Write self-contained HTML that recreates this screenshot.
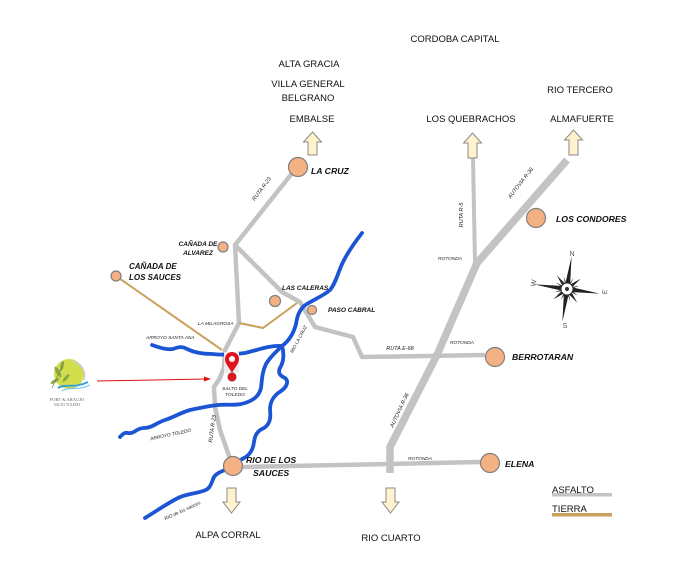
<!DOCTYPE html>
<html><head><meta charset="utf-8"><style>
html,body{margin:0;padding:0;background:#fff;}
svg{display:block;}
text{font-family:"Liberation Sans",sans-serif;}
.r{font-size:9.5px;fill:#111;}
.b{font-size:8.7px;font-weight:bold;font-style:italic;fill:#111;}
.s{font-size:7px;font-weight:bold;font-style:italic;fill:#111;}
.t{font-size:4.8px;font-style:italic;fill:#222;}
</style></head><body>
<svg width="680" height="580" viewBox="0 0 680 580" xmlns="http://www.w3.org/2000/svg">
<rect width="680" height="580" fill="#fff"/>
<!-- gray roads -->
<g fill="none" stroke="#c3c3c3" stroke-linejoin="round" stroke-linecap="butt">
<polyline stroke-width="4.5" points="297,167 235,245 239,323 225,350 224,367 220,378 214,387 215,407 220,430 228,453 233,466"/>
<polyline stroke-width="4.5" points="235,245 282,292 300,302 315,327 353,337 362,357 485,355"/>
<polyline stroke-width="4" points="473,158 475,263"/>
<polyline stroke-width="7.5" points="567,160 477,263 437,355 390,447 390,473"/>
<polyline stroke-width="4.5" points="243,467 340,465 480,462"/>
</g>
<!-- tierra -->
<g fill="none" stroke="#c9a15c" stroke-width="2">
<polyline points="116,276 222,350"/>
<polyline points="239,323 263,328 297,303"/>
</g>
<!-- rivers -->
<g fill="none" stroke="#1b55d3" stroke-width="3.8" stroke-linejoin="round" stroke-linecap="round">
<path d="M362,233 C355,242 348,252 343,262 C338,272 336,283 330,290 C322,297 312,300 304,306 C298,312 297,318 296,324 C294,332 290,340 282,346"/>
<path d="M152,345 C160,348 167,350 173,349 C178,347 182,346 187,349 C195,353 203,354 212,354 C222,355 232,355 245,353 C258,350 270,345 282,346"/>
<path d="M282,346 C276,352 270,357 266,364 C262,372 262,380 261,388 C259,396 254,400 245,403 C236,406 228,404 218,405 C208,406 200,408 190,410 C180,413 174,417 165,420 C156,423 152,428 144,428 C136,428 135,434 128,433 C124,432 122,435 120,437"/>
<path d="M282,346 C284,352 284,360 281,366 C278,371 278,375 285,378 C289,381 287,387 281,391 C273,396 270,402 270,410 C271,418 270,424 264,428 C257,431 255,435 254,442 C253,450 250,455 244,458 C238,461 236,465 233,467"/>
<path d="M233,467 C226,470 217,472 214,477 C211,483 211,489 203,491 C194,494 186,494 178,498 C168,503 158,510 145,518"/>
</g>
<!-- circles -->
<g fill="#f4b183" stroke="#7f7f7f" stroke-width="1.2">
<circle cx="298" cy="167" r="9.5"/>
<circle cx="223" cy="247" r="5"/>
<circle cx="116" cy="276" r="5"/>
<circle cx="275" cy="301" r="5.5"/>
<circle cx="312" cy="310" r="4.5"/>
<circle cx="536" cy="218" r="9.5"/>
<circle cx="495" cy="357" r="9.5"/>
<circle cx="490" cy="463" r="9.5"/>
<circle cx="233" cy="466" r="9.5"/>
</g>
<!-- block arrows -->
<g fill="#fff2cc" stroke="#8a8a8a" stroke-width="1">
<path d="M312.5,132 L321.5,142 L317,142 L317,155 L308,155 L308,142 L303.5,142 Z"/>
<path d="M472.5,133 L481.5,143 L477,143 L477,158 L468,158 L468,143 L463.5,143 Z"/>
<path d="M573.5,130 L582.5,140 L578,140 L578,155 L569,155 L569,140 L564.5,140 Z"/>
<path d="M231.5,513 L240,502 L236,502 L236,488 L227,488 L227,502 L223,502 Z"/>
<path d="M390.5,513 L399,502 L395,502 L395,488 L386,488 L386,502 L382,502 Z"/>
</g>
<!-- pin -->
<rect x="224" y="352" width="15" height="21" fill="#ececec"/>
<path d="M232,373 C229,367 225,364 225,359 A7,7 0 1 1 239,359 C239,364 235,367 232,373 Z" fill="#e0141c"/>
<circle cx="232" cy="359" r="3" fill="#fff"/>
<circle cx="232" cy="377" r="4.5" fill="#e0141c" stroke="#999" stroke-width="0.5"/>
<!-- red arrow -->
<line x1="97" y1="381" x2="206" y2="379" stroke="#e01010" stroke-width="1"/>
<path d="M211,379 L204,376.5 L204,381.5 Z" fill="#e01010"/>
<!-- logo -->
<circle cx="69" cy="374" r="15" fill="#d2df4a"/>
<path d="M72,361 A15,15 0 0 1 84,380" fill="none" stroke="#c9c9d8" stroke-width="1.5"/>
<path d="M58,388 C66,383 74,389 88,382" fill="none" stroke="#3aa0d8" stroke-width="2"/>
<path d="M62,391 C70,386 78,391 90,385" fill="none" stroke="#7cc5ea" stroke-width="1.2"/>
<g fill="#8aa84a">
<ellipse cx="58" cy="372" rx="2" ry="6" transform="rotate(-30 58 372)"/>
<ellipse cx="62" cy="366" rx="1.6" ry="5" transform="rotate(10 62 366)"/>
<ellipse cx="55" cy="381" rx="1.6" ry="5" transform="rotate(60 55 381)"/>
<ellipse cx="66" cy="378" rx="1.6" ry="5" transform="rotate(40 66 378)"/>
</g>
<line x1="52" y1="388" x2="64" y2="362" stroke="#7a9040" stroke-width="0.8"/>
<text x="67" y="401" text-anchor="middle" style="font-family:'Liberation Serif',serif;font-size:4.5px;fill:#666">FORT &amp; ARAUJO</text>
<text x="67" y="406" text-anchor="middle" style="font-family:'Liberation Serif',serif;font-size:3.6px;fill:#666">SALTO TOLEDO</text>
<!-- compass -->
<g transform="translate(567,289) rotate(8)">
<g fill="#222">
<path d="M0,-33 L2.5,-4 L0,0 L-2.5,-4 Z"/>
<path d="M0,33 L2.5,4 L0,0 L-2.5,4 Z"/>
<path d="M-33,0 L-4,-2.5 L0,0 L-4,2.5 Z"/>
<path d="M33,0 L4,-2.5 L0,0 L4,2.5 Z"/>
<g transform="rotate(45)">
<path d="M0,-17 L2,-3 L0,0 L-2,-3 Z"/>
<path d="M0,17 L2,3 L0,0 L-2,3 Z"/>
<path d="M-17,0 L-3,-2 L0,0 L-3,2 Z"/>
<path d="M17,0 L3,-2 L0,0 L3,2 Z"/>
</g>
<g transform="rotate(22.5)"><path d="M0,-13 L1.1,0 L0,13 L-1.1,0 Z"/><path d="M-13,0 L0,1.1 L13,0 L0,-1.1 Z"/></g>
<g transform="rotate(67.5)"><path d="M0,-13 L1.1,0 L0,13 L-1.1,0 Z"/><path d="M-13,0 L0,1.1 L13,0 L0,-1.1 Z"/></g>
</g>
<circle r="6" fill="#fff" stroke="#333" stroke-width="1"/>
<circle r="2" fill="#333"/>
</g>
<g style="font-family:'Liberation Serif',serif;font-size:7px;fill:#555">
<text x="572" y="256" text-anchor="middle">N</text>
<text x="565" y="328" text-anchor="middle">S</text>
<text x="534" y="285" text-anchor="middle" transform="rotate(-80 534 283)">W</text>
<text x="605" y="294" text-anchor="middle" transform="rotate(-80 605 292)">E</text>
</g>
<!-- regular labels -->
<g class="r" text-anchor="middle">
<text x="455" y="42">CORDOBA CAPITAL</text>
<text x="309" y="67">ALTA GRACIA</text>
<text x="308" y="87">VILLA GENERAL</text>
<text x="308" y="101">BELGRANO</text>
<text x="312" y="122">EMBALSE</text>
<text x="471" y="122">LOS QUEBRACHOS</text>
<text x="582" y="122">ALMAFUERTE</text>
<text x="580" y="93">RIO TERCERO</text>
<text x="228" y="538">ALPA CORRAL</text>
<text x="391" y="541">RIO CUARTO</text>
</g>
<text class="r" x="552" y="493">ASFALTO</text>
<rect x="552" y="493" width="60" height="3.5" fill="#c3c3c3"/>
<text class="r" x="552" y="512">TIERRA</text>
<rect x="552" y="513" width="60" height="3.5" fill="#c9a15c"/>
<!-- bold labels -->
<text class="b" x="311" y="174">LA CRUZ</text>
<text class="b" x="556" y="222">LOS CONDORES</text>
<text class="b" x="512" y="360">BERROTARAN</text>
<text class="b" x="505" y="467">ELENA</text>
<text class="b" x="246" y="463">RIO DE LOS</text>
<text class="b" x="253" y="476">SAUCES</text>
<text class="s" x="129" y="269" style="font-size:8px">CAÑADA DE</text>
<text class="s" x="129" y="280" style="font-size:8px">LOS SAUCES</text>
<text class="s" x="198" y="246" text-anchor="middle" style="font-size:6.5px">CAÑADA DE</text>
<text class="s" x="198" y="255" text-anchor="middle" style="font-size:6.5px">ALVAREZ</text>
<text class="s" x="282" y="290" style="font-size:6.5px">LAS CALERAS</text>
<text class="s" x="328" y="312" style="font-size:6.5px">PASO CABRAL</text>
<!-- tiny labels -->
<text class="t" x="198" y="325">LA MILAGROSA</text>
<text class="t" x="146" y="339">ARROYO SANTA ANA</text>
<text class="t" x="235" y="390" text-anchor="middle">SALTO DEL</text>
<text class="t" x="235" y="396" text-anchor="middle">TOLEDO</text>
<text class="t" x="171" y="436" text-anchor="middle" transform="rotate(-12 171 436)">ARROYO TOLEDO</text>
<text class="t" x="183" y="512" text-anchor="middle" transform="rotate(-25 183 512)">RIO de los sauces</text>
<text class="t" x="300" y="340" text-anchor="middle" transform="rotate(-62 300 340)">RIO LA CRUZ</text>
<text class="t" x="263" y="190" text-anchor="middle" transform="rotate(-53 263 190)" style="font-size:5.5px">RUTA R-23</text>
<text class="t" x="214" y="429" text-anchor="middle" transform="rotate(-82 214 429)" style="font-size:5.5px">RUTA R-23</text>
<text class="t" x="462" y="344" text-anchor="middle">ROTONDA</text>
<text class="t" x="420" y="460" text-anchor="middle">ROTONDA</text>
<text class="t" x="450" y="260" text-anchor="middle">ROTONDA</text>
<text class="t" x="400" y="350" text-anchor="middle" style="font-size:5.5px">RUTA E-68</text>
<text class="t" x="401" y="411" text-anchor="middle" transform="rotate(-65 401 411)" style="font-size:5.5px">AUTOVIA R-36</text>
<text class="t" x="522" y="184" text-anchor="middle" transform="rotate(-52 522 184)" style="font-size:5.5px">AUTOVIA R-36</text>
<text class="t" x="463" y="215" text-anchor="middle" transform="rotate(-90 463 215)" style="font-size:5.5px">RUTA R-5</text>
</svg>
</body></html>
